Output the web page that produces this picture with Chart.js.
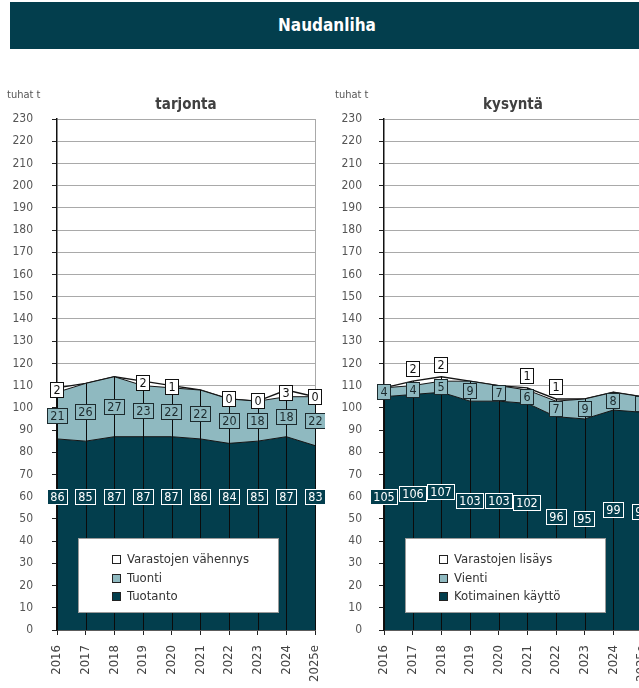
<!DOCTYPE html>
<html lang="fi">
<head>
<meta charset="utf-8">
<title>Naudanliha</title>
<script src="https://cdn.jsdelivr.net/npm/chart.js@4/dist/chart.umd.min.js"></script>
<style>
    body { margin:0; width:639px; height:688px; overflow:hidden; background:#fff; position:relative; }
    #head { position:absolute; left:10px; top:2px; width:634px; height:47px; background:#033e4d; color:#fff;
            font: bold 17px 'Liberation Sans Narrow', 'DejaVu Sans Condensed', Roboto, sans-serif;
            line-height:47px; text-align:center; }
    .wrap { position:absolute; top:60px; height:628px; }
    #w1 { left:0; width:325px; }
    #w2 { left:325px; width:340px; }
</style>
</head>
<body>
<div id="head">Naudanliha</div>
<div class="wrap" id="w1"><canvas id="cTarjonta"></canvas></div>
<div class="wrap" id="w2"><canvas id="cKysynta"></canvas></div>
<script>
/* Naudanliha - tarjonta & kysyntä (tuhat t) */

const years = ['2016','2017','2018','2019','2020','2021','2022','2023','2024','2025e'];

// tarjonta
const tuotanto = [86, 85, 87, 87, 87, 86, 84, 85, 87, 83];
const tuonti = [21, 26, 27, 23, 22, 22, 20, 18, 18, 22];
const varVahennys = [2, null, null, 2, 1, null, 0, 0, 3, 0];

// kysyntä
const kotimainen = [105, 106, 107, 103, 103, 102, 96, 95, 99, 98];
const vienti = [4, 4, 5, 9, 7, 6, 7, 9, 8, 7];
const varLisays = [null, 2, 2, null, null, 1, 1, null, null, null];

const yMin = 0, yMax = 230, yStep = 10;

const FONT = "'Liberation Sans Narrow', 'DejaVu Sans Condensed', Roboto, sans-serif";
const DARK = '#033e4d', LIGHT = '#8fb9c0';
Chart.defaults.font.family = FONT;

// pystyviivat pinon yläreunaan asti
const dropLines = {
    id: 'dropLines',
    afterDatasetsDraw(chart) {
        const ctx = chart.ctx, xs = chart.scales.x, ys = chart.scales.y;
        ctx.save();
        ctx.strokeStyle = '#0b0b0b'; ctx.lineWidth = 1;
        chart.data.labels.forEach((l, i) => {
            let tot = 0;
            chart.data.datasets.forEach(d => tot += (d.data[i] || 0));
            const x = Math.round(xs.getPixelForValue(i)) + 0.5;
            ctx.beginPath();
            ctx.moveTo(x, ys.getPixelForValue(0));
            ctx.lineTo(x, ys.getPixelForValue(tot));
            ctx.stroke();
        });
        ctx.restore();
    }
};

function drawBox(ctx, text, x, y, bg, border, color) {
    ctx.font = '12.5px ' + FONT;
    const w = Math.round(Math.max(ctx.measureText(text).width + 7, 14));
    const h = 16;
    const l = Math.round(x - w / 2), t = Math.round(y - h / 2);
    ctx.fillStyle = bg; ctx.fillRect(l, t, w, h);
    ctx.strokeStyle = border; ctx.lineWidth = 1; ctx.strokeRect(l + 0.5, t + 0.5, w - 1, h - 1);
    ctx.fillStyle = color; ctx.textAlign = 'center'; ctx.textBaseline = 'middle';
    ctx.fillText(text, l + w / 2, t + h / 2 + 1);
}

// arvolaatikot
const boxLabels = {
    id: 'boxLabels',
    afterDatasetsDraw(chart, args, opts) {
        const ctx = chart.ctx, xs = chart.scales.x, ys = chart.scales.y;
        const ds = chart.data.datasets;
        ctx.save();
        chart.data.labels.forEach((l, i) => {
            const x = xs.getPixelForValue(i);
            const v0 = ds[0].data[i], v1 = ds[1].data[i], raw2 = ds[2].raw[i];
            // alin sarja
            const a0 = opts.darkFixed != null ? opts.darkFixed : v0 - opts.darkOffset;
            drawBox(ctx, String(v0), x, ys.getPixelForValue(a0), DARK, '#ffffff', '#ffffff');
            // keskimmäinen
            drawBox(ctx, String(v1), x, ys.getPixelForValue(v0 + v1 / 2), LIGHT, '#1c2a2d', '#1c2a2d');
            // varastot
            if (raw2 != null) {
                const top = v0 + v1 + raw2;
                const y = opts.whiteAbove ? ys.getPixelForValue(top) - opts.whiteAbove
                                          : ys.getPixelForValue(v0 + v1 + raw2 / 2);
                drawBox(ctx, String(raw2), x, y, '#ffffff', '#111111', '#111111');
            }
        });
        ctx.restore();
    }
};

// selite ja otsikot
const boxLegend = {
    id: 'boxLegend',
    afterDraw(chart, args, opts) {
        const a = chart.chartArea, ctx = chart.ctx;
        ctx.save();
        // otsikko ja yksikkö
        ctx.fillStyle = '#404040'; ctx.font = 'bold 15px ' + FONT;
        ctx.textAlign = 'center'; ctx.textBaseline = 'middle';
        ctx.fillText(opts.title, (a.left + a.right) / 2, a.top - 14);
        ctx.fillStyle = '#555'; ctx.font = '11px ' + FONT; ctx.textAlign = 'left';
        ctx.fillText('tuhat t', opts.unitX, a.top - 24);

        const x0 = a.left + 21, y0 = a.bottom - 92, w = 200, h = 74;
        ctx.fillStyle = '#fff'; ctx.fillRect(x0, y0, w, h);
        ctx.strokeStyle = '#9a9a9a'; ctx.lineWidth = 1; ctx.strokeRect(x0 + 0.5, y0 + 0.5, w, h);
        const ds = chart.data.datasets.slice().reverse();
        ds.forEach((d, i) => {
            const cy = Math.round(y0 + 21 + i * 18.5);
            ctx.fillStyle = d.backgroundColor; ctx.fillRect(x0 + 34, cy - 4, 9, 9);
            ctx.strokeStyle = '#222'; ctx.strokeRect(x0 + 34.5, cy - 3.5, 8, 8);
            ctx.fillStyle = '#333'; ctx.font = '13px ' + FONT; ctx.textAlign = 'left'; ctx.textBaseline = 'middle';
            ctx.fillText(d.label, x0 + 49, cy + 1);
        });
        ctx.restore();
    }
};

function makeChart(id, names, series, cfg) {
    const colors = [DARK, LIGHT, '#ffffff'];
    const datasets = series.map((s, k) => ({
        label: names[k],
        data: s.map(v => v == null ? 0 : v),
        raw: s,
        fill: k === 0 ? 'origin' : '-1',
        backgroundColor: colors[k],
        borderColor: '#151515',
        borderWidth: k === 2 ? 1.4 : 1,
        pointRadius: 0,
        tension: 0
    }));
    return new Chart(document.getElementById(id), {
        type: 'line',
        data: { labels: years, datasets },
        options: {
            responsive: true, maintainAspectRatio: false, animation: false,
            layout: { padding: { top: 59, right: cfg.padRight, left: 0, bottom: 0 } },
            plugins: {
                legend: { display: false }, tooltip: { enabled: false },
                boxLabels: cfg.labels,
                boxLegend: { title: cfg.title, unitX: cfg.unitX }
            },
            scales: {
                x: {
                    offset: false,
                    grid: { color: c => c.index === years.length - 1 ? '#a9a9a9' : 'rgba(0,0,0,0)', tickColor: '#222', tickLength: 5 },
                    border: { color: '#111', width: 1.5 },
                    ticks: { color: '#444', font: { size: 13 }, minRotation: 90, maxRotation: 90, padding: 10, autoSkip: false },
                    afterFit: s => { s.height = 58; s.paddingLeft = 0; s.paddingRight = 0; }
                },
                y: {
                    stacked: true, min: yMin, max: yMax,
                    grid: { color: '#a9a9a9', tickColor: '#222', tickLength: 5 },
                    border: { color: '#111', width: 1.5 },
                    ticks: { stepSize: yStep, color: '#555', font: { size: 12 }, padding: cfg.tickPad, autoSkip: false },
                    afterFit: s => { s.width = cfg.axisW; s.paddingTop = 0; s.paddingBottom = 0; }
                }
            }
        },
        plugins: [dropLines, boxLabels, boxLegend]
    });
}

makeChart('cTarjonta', ['Tuotanto', 'Tuonti', 'Varastojen vähennys'], [tuotanto, tuonti, varVahennys],
    { title: 'tarjonta', unitX: 7, axisW: 57, padRight: 10, tickPad: 19,
      labels: { darkFixed: 60, darkOffset: 0, whiteAbove: 0 } });

makeChart('cKysynta', ['Kotimainen käyttö', 'Vienti', 'Varastojen lisäys'], [kotimainen, vienti, varLisays],
    { title: 'kysyntä', unitX: 10, axisW: 59, padRight: 23, tickPad: 17,
      labels: { darkFixed: null, darkOffset: 45, whiteAbove: 12 } });
</script>
</body>
</html>
